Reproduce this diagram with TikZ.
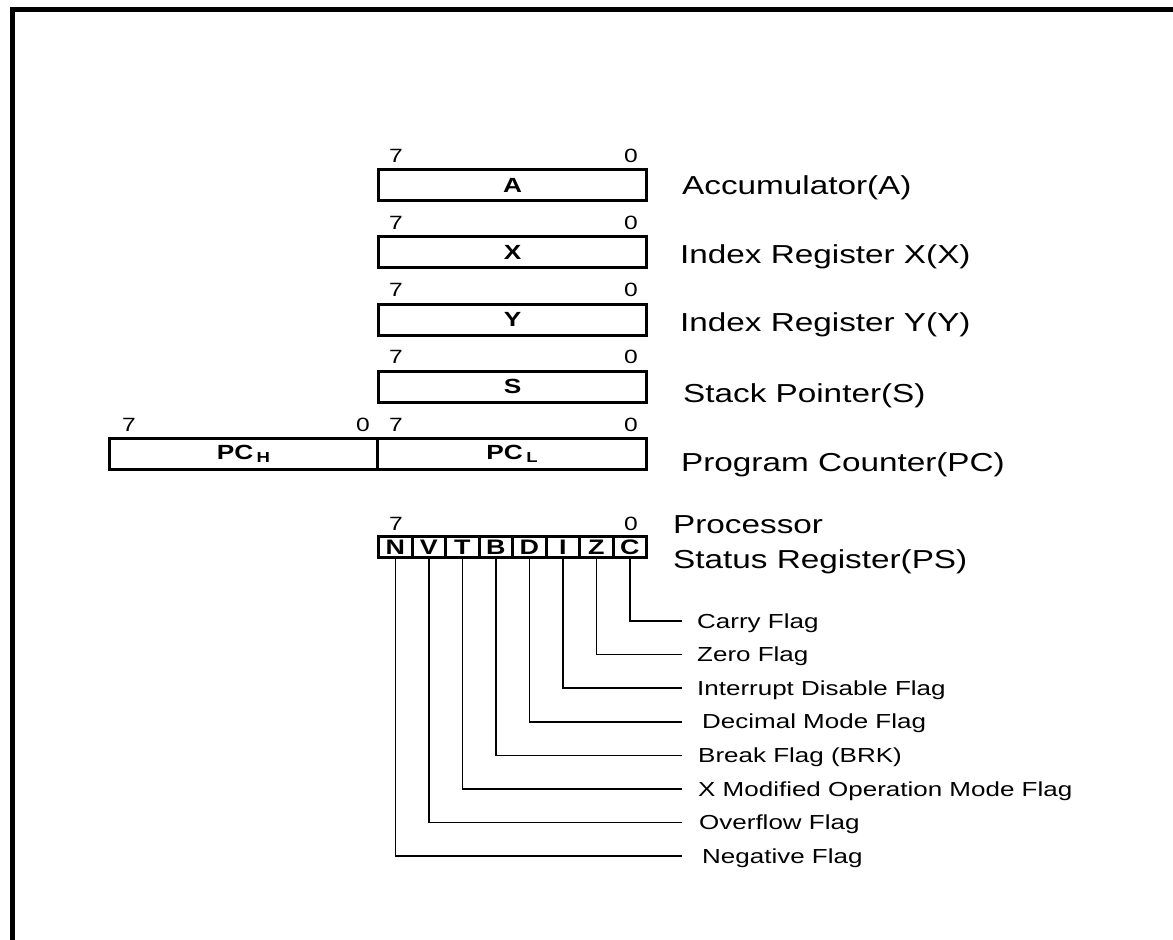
\documentclass[tikz,border=0pt]{standalone}
\usepackage{fontspec}
\setmainfont{Liberation Sans}[FakeStretch=1.28]
\begin{document}
\begin{tikzpicture}[x=1pt,y=-1pt,
  reg/.style={draw, line width=3pt, minimum width=268pt, minimum height=31pt, inner sep=0pt, font=\fontsize{20.5}{21}\selectfont\bfseries},
  cell/.style={draw, line width=3pt, minimum width=33.5pt, minimum height=20.5pt, inner sep=0pt, font=\fontsize{21}{21}\selectfont\bfseries},
  bitw/.style={font=\fontsize{19.2}{20}\selectfont, inner sep=0pt, anchor=base west},
  bite/.style={font=\fontsize{19.2}{20}\selectfont, inner sep=0pt, anchor=base east},
  rlbl/.style={font=\fontsize{26}{30}\selectfont, inner sep=0pt, anchor=base west},
  flbl/.style={font=\fontsize{20.3}{21}\selectfont, inner sep=0pt, anchor=base west},
  conn/.style={line width=1.5pt},
  frame/.style={line width=5pt}]
\useasboundingbox (0,0) rectangle (1173,940);
% frame
\draw[frame] (12.5,940) -- (12.5,9.5) -- (1173,9.5);
% 8-bit registers
\foreach \n/\cy/\bl in {A/185/162, X/252.25/229.25, Y/319.5/296.5, S/386.75/363.75}{
  \node[reg] (r\n) at (512.5,\cy) {\n};
  \node[bitw] (h\n) at (389,\bl) {7};
  \node[bite] (l\n) at (638,\bl) {0};
}
% program counter
\node[reg] (pch) at (243.5,454) {PC\,\raisebox{-3pt}{\fontsize{14.5}{15}\selectfont H}};
\node[reg, minimum width=269pt] (pcl) at (512,454) {PC\,\raisebox{-3pt}{\fontsize{14.5}{15}\selectfont L}};
\node[bitw] (hpch) at (122,431) {7};
\node[bite] (lpch) at (370,431) {0};
\node[bitw] (hpcl) at (389,431) {7};
\node[bite] (lpcl) at (638,431) {0};
% register labels
\node[rlbl] (tA) at (682,194) {Accumulator(A)};
\node[rlbl] (tX) at (680,263) {Index Register X(X)};
\node[rlbl] (tY) at (680,331) {Index Register Y(Y)};
\node[rlbl] (tS) at (683,402) {Stack Pointer(S)};
\node[rlbl] (tPC) at (681,471) {Program Counter(PC)};
\node[rlbl] (tP1) at (673,533) {Processor};
\node[rlbl] (tP2) at (673,568) {Status Register(PS)};
% status register cells
\foreach \l [count=\i from 0] in {N,V,T,B,D,I,Z,C}{
  \node[cell] (c\l) at ({395.25+33.5*\i},547) {\l};
}
\node[bitw] (hps) at (389,530) {7};
\node[bite] (lps) at (638,530) {0};
% flag connectors and labels
\foreach \l/\t/\dx [count=\i from 0] in {C/Carry Flag/697, Z/Zero Flag/697, I/Interrupt Disable Flag/697, D/Decimal Mode Flag/702, B/Break Flag (BRK)/698, T/X Modified Operation Mode Flag/698, V/Overflow Flag/699, N/Negative Flag/702}{
  \coordinate (e\l) at (682,{621+33.6*\i});
  \node[flbl] (f\l) at (\dx,{628+33.6*\i}) {\t};
  \draw[conn] (c\l.south) |- (e\l);
}
\end{tikzpicture}
\end{document}
